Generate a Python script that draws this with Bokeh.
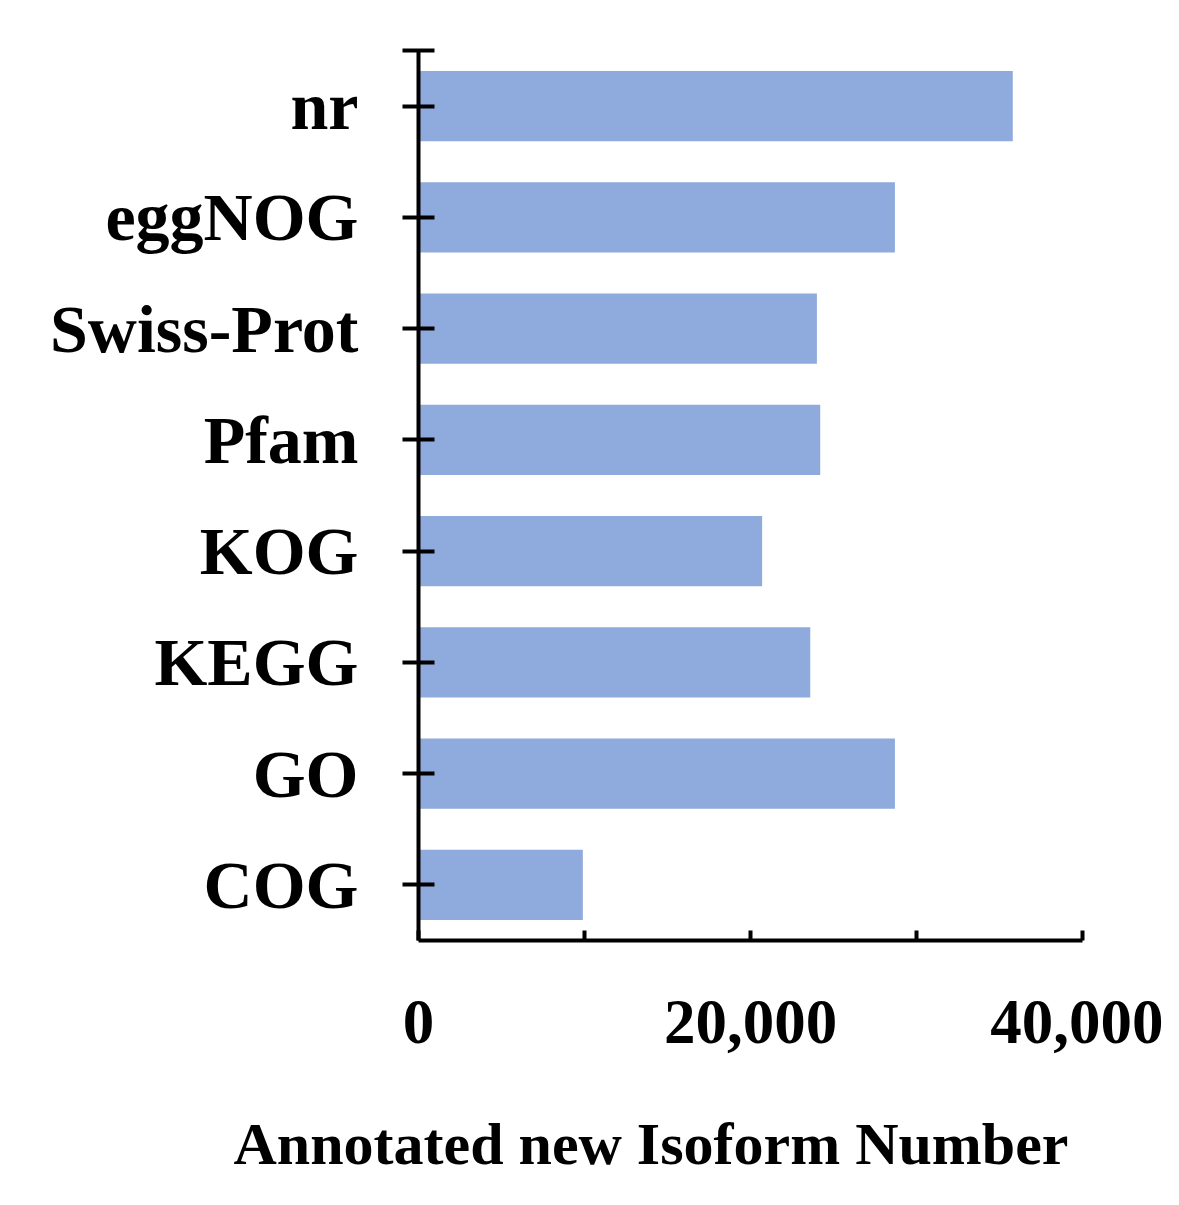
from bokeh.plotting import figure
from bokeh.models import FixedTicker, NumeralTickFormatter, Range1d, Title, LinearAxis
from bokeh.embed import file_html
from bokeh.resources import INLINE

categories = ["nr", "eggNOG", "Swiss-Prot", "Pfam", "KOG", "KEGG", "GO", "COG"]
values = [35800, 28700, 24000, 24200, 20700, 23600, 28700, 9900]
x_ticks = [0, 20000, 40000]
x_minor = [10000, 30000]
x_title = "Annotated new Isoform Number"

n = len(categories)
ypos = [n - i - 0.5 for i in range(n)]

FONT = "Liberation Serif"

p = figure(width=1163, height=1196, output_backend="svg", toolbar_location=None,
           x_range=Range1d(0, 40000), y_range=Range1d(0, n),
           min_border_left=418, min_border_right=81, min_border_top=50, min_border_bottom=256)
p.outline_line_color = None
p.grid.visible = False
p.background_fill_color = "white"

p.hbar(y=ypos, right=values, left=0, height=0.63, fill_color="#8FAADC", line_color=None)

xa = p.xaxis[0]
xa.ticker = FixedTicker(ticks=x_ticks, minor_ticks=x_minor)
xa.formatter = NumeralTickFormatter(format="0,0")
xa.axis_line_width = 4
xa.axis_line_color = "black"
xa.major_tick_in = 10
xa.major_tick_out = 0
xa.minor_tick_in = 10
xa.minor_tick_out = 0
xa.major_tick_line_width = 4
xa.minor_tick_line_width = 4
xa.major_tick_line_color = "black"
xa.minor_tick_line_color = "black"
xa.major_label_text_font = FONT
xa.major_label_text_font_style = "bold"
xa.major_label_text_font_size = "63px"
xa.major_label_text_color = "black"
xa.major_label_standoff = 60

ya = p.yaxis[0]
yticks = ypos + [float(n)]
ya.ticker = FixedTicker(ticks=yticks, minor_ticks=[])
ya.major_label_overrides = {**{float(y): c for y, c in zip(ypos, categories)}, float(n): ""}
ya.axis_line_width = 4
ya.axis_line_color = "black"
ya.major_tick_in = 16
ya.major_tick_out = 16
ya.major_tick_line_width = 4
ya.major_tick_line_color = "black"
ya.minor_tick_line_color = None
ya.major_label_text_font = FONT
ya.major_label_text_font_style = "bold"
ya.major_label_text_font_size = "68px"
ya.major_label_text_color = "black"
ya.major_label_standoff = 44

# invisible spacer between tick labels and the axis title
spacer = LinearAxis(ticker=FixedTicker(ticks=[x_ticks[0]], minor_ticks=[]), axis_line_color=None,
                    major_tick_in=0, major_tick_out=58, minor_tick_in=0, minor_tick_out=0,
                    major_tick_line_color=None, minor_tick_line_color=None,
                    major_label_overrides={x_ticks[0]: ""}, major_label_standoff=0,
                    major_label_text_font_size="1px")
p.add_layout(spacer, "below")

t = Title(text=x_title, align="left", offset=-185, text_font=FONT, text_font_style="bold",
          text_font_size="60px", text_color="black", standoff=10)
p.add_layout(t, "below")

open("out.html", "w").write(file_html(p, INLINE))
